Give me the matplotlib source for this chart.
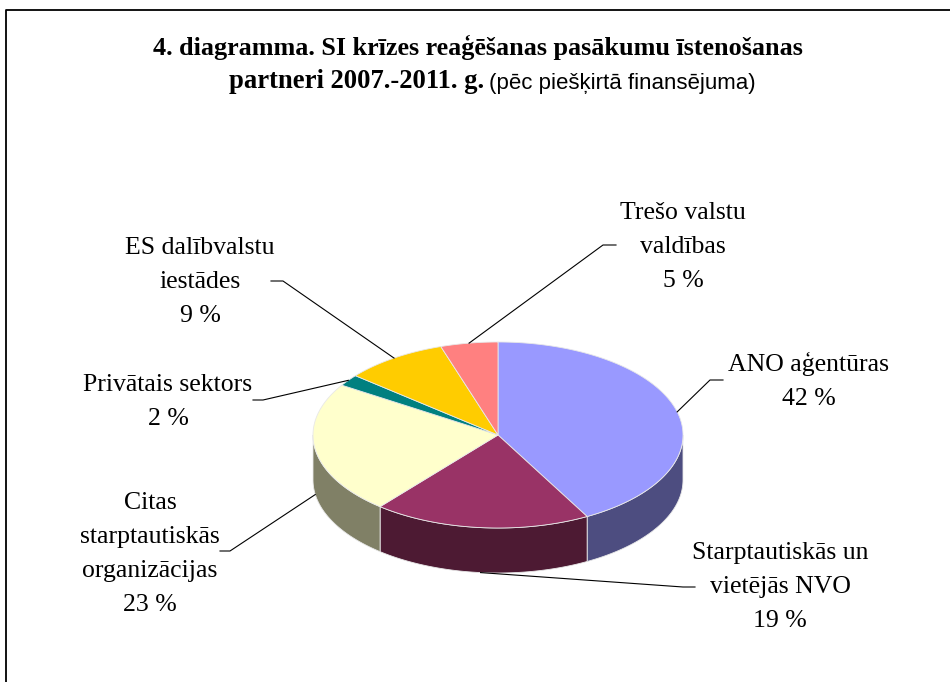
import numpy as np
import matplotlib
matplotlib.use("Agg")
import matplotlib.pyplot as plt
from matplotlib.patches import Polygon

# data
labels = ["ANO aģentūras", "Starptautiskās un\nvietējās NVO",
          "Citas\nstarptautiskās\norganizācijas", "Privātais sektors",
          "ES dalībvalstu\niestādes", "Trešo valstu\nvaldības"]
shares = [42, 19, 23, 2, 9, 5]
top_colors = ["#9999FF", "#993366", "#FFFFCC", "#008080", "#FFCC00", "#FF8080"]
side_colors = ["#4D4D80", "#4D1A33", "#808066", "#004040", "#806600", "#804040"]

# layout (pixels): label block centre, leader elbow, leader end
label_xy = [(809, 381), (780, 587), (150, 554), (168, 402), (200, 282), (683, 247)]
elbow_xy = [(710, 380), (683, 587), (230, 551), (263, 400), (283, 281), (603, 245)]
end_xy = [(723, 380), (695, 587), (220, 551), (253, 400), (271, 281), (616, 245)]

cx, cy, rx, ry, depth = 498, 435, 185, 93, 45

serif = "Liberation Serif"
sans = "Liberation Sans"

fig = plt.figure(figsize=(9.5, 6.82), dpi=100)
ax = fig.add_axes([0, 0, 1, 1])
ax.set_xlim(0, 950)
ax.set_ylim(682, 0)
ax.axis("off")

# chart frame (cut at right/bottom like the source)
ax.plot([6, 6, 952], [684, 10, 10], color="black", lw=1.3)

# title
ax.text(478, 47, "4. diagramma. SI krīzes reaģēšanas pasākumu īstenošanas",
        family=serif, weight="bold", fontsize=18.8, ha="center", va="center")
ax.text(484, 82, "partneri 2007.-2011. g.", family=serif, weight="bold",
        fontsize=19.2, ha="right", va="center")
ax.text(489, 83, "(pēc piešķirtā finansējuma)", family=sans,
        fontsize=16, ha="left", va="center")

# slice angles, clockwise from 12 o'clock
angles = 90 - 360 * np.cumsum([0] + shares) / sum(shares)


def rim(t, dy=0):
    t = np.radians(t)
    return cx + rx * np.cos(t), cy - ry * np.sin(t) + dy


# side walls (front half only)
for i in range(len(shares)):
    hi = min(angles[i], 0)
    lo = max(angles[i + 1], -180)
    if hi <= lo:
        continue
    t = np.linspace(hi, lo, 120)
    x1, y1 = rim(t)
    x2, y2 = rim(t[::-1], depth)
    ax.add_patch(Polygon(np.column_stack([np.r_[x1, x2], np.r_[y1, y2]]),
                         closed=True, fc=side_colors[i], ec="#e8e8e8", lw=0.6))

# top faces
for i in range(len(shares)):
    t = np.linspace(angles[i], angles[i + 1], 200)
    x, y = rim(t)
    ax.add_patch(Polygon(np.column_stack([np.r_[cx, x], np.r_[cy, y]]),
                         closed=True, fc=top_colors[i], ec="#e8e8e8", lw=0.6))

# labels and leader lines
for i, lab in enumerate(labels):
    mid = (angles[i] + angles[i + 1]) / 2
    if np.sin(np.radians(mid)) < 0:
        ax_, ay_ = rim(mid, depth)
    else:
        ax_, ay_ = rim(mid)
    ax.plot([ax_, elbow_xy[i][0], end_xy[i][0]],
            [ay_, elbow_xy[i][1], end_xy[i][1]], color="black", lw=0.8)
    ax.text(label_xy[i][0], label_xy[i][1], f"{lab}\n{shares[i]} %",
            family=serif, fontsize=18.5, ha="center", va="center",
            linespacing=1.7)

fig.savefig("out.png", dpi=100)
